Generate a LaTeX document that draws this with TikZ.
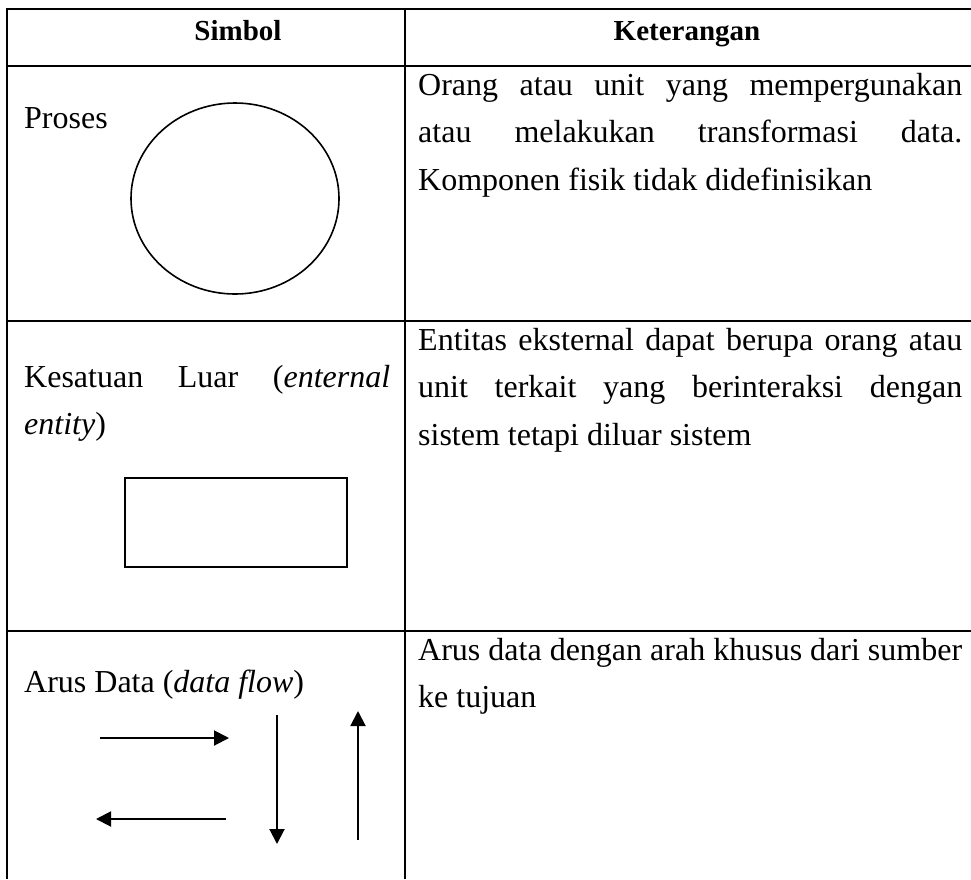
\documentclass[tikz,border=0pt]{standalone}
\usepackage{fontspec}
\setmainfont{Liberation Serif}
\usetikzlibrary{arrows.meta,shapes.geometric}
\begin{document}
\begin{tikzpicture}[x=1pt,y=-1pt,
  txt/.style={anchor=base west, inner sep=0pt, font=\fontsize{32}{38}\selectfont},
  head/.style={anchor=base, inner sep=0pt, font=\fontsize{29}{35}\selectfont\bfseries},
  rule/.style={line width=2.2pt},
  shapeline/.style={draw, line width=1.6pt, inner sep=0pt},
  flow/.style={line width=2pt, -{Triangle[length=15pt,width=15pt]}}]
\useasboundingbox (0,0) rectangle (971,879);
% table rules
\coordinate (tl) at (7,9);
\coordinate (tr) at (980,9);
\coordinate (bl) at (7,879);
\coordinate (dt) at (405,9);
\coordinate (db) at (405,879);
\coordinate (h1) at (7,66);
\coordinate (h2) at (980,66);
\coordinate (r1a) at (7,321);
\coordinate (r1b) at (980,321);
\coordinate (r2a) at (7,631);
\coordinate (r2b) at (980,631);
\draw[rule] (tr) -- (tl) -- (bl);
\draw[rule] (dt) -- (db);
\draw[rule] (h1) -- (h2);
\draw[rule] (r1a) -- (r1b);
\draw[rule] (r2a) -- (r2b);
% header
\node[head] (hs) at (238,40) {Simbol};
\node[head] (hk) at (687,40) {Keterangan};
% row 1
\node[txt] (p1) at (24,128) {Proses};
\node[shapeline, ellipse, minimum width=208pt, minimum height=191pt] (proc) at (235,198.5) {};
\node[txt] (k1a) at (418,95) {\makebox[544pt][s]{Orang atau unit yang mempergunakan}};
\node[txt] (k1b) at (418,142.5) {\makebox[544pt][s]{atau melakukan transformasi data.}};
\node[txt] (k1c) at (418,190) {Komponen fisik tidak didefinisikan};
% row 2
\node[txt] (e1) at (24,387) {\makebox[366pt][s]{Kesatuan Luar (\textit{enternal}}};
\node[txt] (e2) at (24,434) {\textit{entity})};
\node[shapeline, rectangle, minimum width=222pt, minimum height=89pt] (ent) at (236,522.5) {};
\node[txt] (k2a) at (418,350) {\makebox[544pt][s]{Entitas eksternal dapat berupa orang atau}};
\node[txt] (k2b) at (418,397.5) {\makebox[544pt][s]{unit terkait yang berinteraksi dengan}};
\node[txt] (k2c) at (418,445) {sistem tetapi diluar sistem};
% row 3
\node[txt] (a1) at (24,692) {Arus Data (\textit{data flow})};
\node[txt] (k3a) at (418,660) {\makebox[544pt][s]{Arus data dengan arah khusus dari sumber}};
\node[txt] (k3b) at (418,707.5) {ke tujuan};
\coordinate (ra) at (100,738);
\coordinate (rb) at (229,738);
\coordinate (la) at (226,819);
\coordinate (lb) at (96,819);
\coordinate (da) at (277,715);
\coordinate (db2) at (277,844);
\coordinate (ua) at (358,840);
\coordinate (ub) at (358,711);
\draw[flow] (ra) -- (rb);
\draw[flow] (la) -- (lb);
\draw[flow] (da) -- (db2);
\draw[flow] (ua) -- (ub);
\end{tikzpicture}
\end{document}
